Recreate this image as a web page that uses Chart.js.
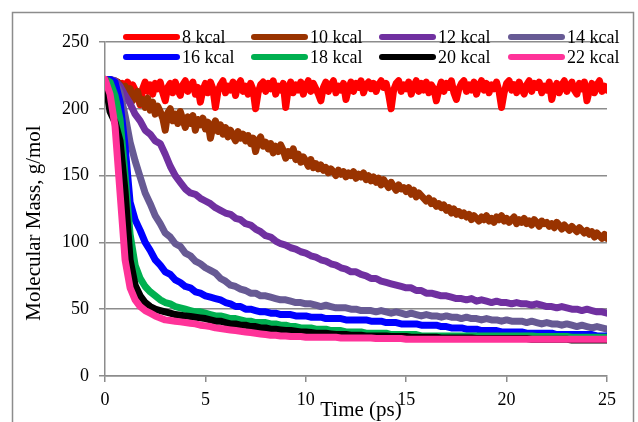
<!DOCTYPE html>
<html>
<head>
<meta charset="utf-8">
<script src="https://cdn.jsdelivr.net/npm/chart.js@4.4.0/dist/chart.umd.min.js"></script>
<style>
  html, body { margin: 0; padding: 0; background: #fff; }
  #wrap { position: relative; width: 638px; height: 422px; }
</style>
</head>
<body>
<div id="wrap"><canvas id="massChart" width="638" height="422"></canvas></div>
<script>
// Time axis (ps): the noisy runs are read every 0.125 ps, the others every 0.25 ps
const timesFine = [
  0, 0.125, 0.25, 0.375, 0.5, 0.625, 0.75, 0.875, 1, 1.125, 1.25, 1.375, 1.5, 1.625, 1.75, 1.875,
  2, 2.125, 2.25, 2.375, 2.5, 2.625, 2.75, 2.875, 3, 3.125, 3.25, 3.375, 3.5, 3.625, 3.75, 3.875,
  4, 4.125, 4.25, 4.375, 4.5, 4.625, 4.75, 4.875, 5, 5.125, 5.25, 5.375, 5.5, 5.625, 5.75, 5.875,
  6, 6.125, 6.25, 6.375, 6.5, 6.625, 6.75, 6.875, 7, 7.125, 7.25, 7.375, 7.5, 7.625, 7.75, 7.875,
  8, 8.125, 8.25, 8.375, 8.5, 8.625, 8.75, 8.875, 9, 9.125, 9.25, 9.375, 9.5, 9.625, 9.75, 9.875,
  10, 10.125, 10.25, 10.375, 10.5, 10.625, 10.75, 10.875, 11, 11.125, 11.25, 11.375, 11.5, 11.625, 11.75, 11.875,
  12, 12.125, 12.25, 12.375, 12.5, 12.625, 12.75, 12.875, 13, 13.125, 13.25, 13.375, 13.5, 13.625, 13.75, 13.875,
  14, 14.125, 14.25, 14.375, 14.5, 14.625, 14.75, 14.875, 15, 15.125, 15.25, 15.375, 15.5, 15.625, 15.75, 15.875,
  16, 16.125, 16.25, 16.375, 16.5, 16.625, 16.75, 16.875, 17, 17.125, 17.25, 17.375, 17.5, 17.625, 17.75, 17.875,
  18, 18.125, 18.25, 18.375, 18.5, 18.625, 18.75, 18.875, 19, 19.125, 19.25, 19.375, 19.5, 19.625, 19.75, 19.875,
  20, 20.125, 20.25, 20.375, 20.5, 20.625, 20.75, 20.875, 21, 21.125, 21.25, 21.375, 21.5, 21.625, 21.75, 21.875,
  22, 22.125, 22.25, 22.375, 22.5, 22.625, 22.75, 22.875, 23, 23.125, 23.25, 23.375, 23.5, 23.625, 23.75, 23.875,
  24, 24.125, 24.25, 24.375, 24.5, 24.625, 24.75, 24.875, 25
];
const times = [
  0, 0.25, 0.5, 0.75, 1, 1.25, 1.5, 1.75, 2, 2.25, 2.5, 2.75, 3, 3.25, 3.5, 3.75, 4, 4.25, 4.5, 4.75,
  5, 5.25, 5.5, 5.75, 6, 6.25, 6.5, 6.75, 7, 7.25, 7.5, 7.75, 8, 8.25, 8.5, 8.75, 9, 9.25, 9.5, 9.75,
  10, 10.25, 10.5, 10.75, 11, 11.25, 11.5, 11.75, 12, 12.25, 12.5, 12.75, 13, 13.25, 13.5, 13.75, 14, 14.25, 14.5, 14.75,
  15, 15.25, 15.5, 15.75, 16, 16.25, 16.5, 16.75, 17, 17.25, 17.5, 17.75, 18, 18.25, 18.5, 18.75, 19, 19.25, 19.5, 19.75,
  20, 20.25, 20.5, 20.75, 21, 21.25, 21.5, 21.75, 22, 22.25, 22.5, 22.75, 23, 23.25, 23.5, 23.75, 24, 24.25, 24.5, 24.75,
  25
];

const labels = ['8 kcal', '10 kcal', '12 kcal', '14 kcal', '16 kcal', '18 kcal', '20 kcal', '22 kcal'];
const colors = ['#ff0000', '#993300', '#7030a0', '#675a94', '#0000ff', '#00b050', '#000000', '#ff3399'];

// Molecular mass (g/mol), one row per ps for the fine runs
const kcal8 = [
  222, 222, 221, 219, 217, 220, 214, 219,
  216, 220, 212, 218, 214, 210, 203, 215,
  220, 213, 218, 211, 219, 215, 220, 212,
  206, 216, 219, 212, 220, 214, 210, 218,
  221, 213, 217, 220, 211, 216, 205, 214,
  219, 212, 220, 215, 201, 213, 218, 221,
  212, 217, 214, 220, 210, 218, 221, 213,
  217, 211, 219, 214, 200, 212, 218, 220,
  213, 219, 215, 221, 211, 217, 214, 219,
  201, 215, 220, 212, 218, 214, 220, 211,
  217, 221, 213, 219, 215, 211, 206, 216,
  220, 213, 218, 221, 212, 217, 214, 219,
  207, 215, 220, 213, 219, 216, 221, 212,
  218, 220, 215, 219, 213, 218, 221, 216,
  219, 211, 200, 214, 219, 221, 213, 218,
  215, 220, 211, 217, 221, 213, 219, 214,
  220, 212, 218, 215, 206, 214, 220, 213,
  219, 216, 221, 212, 207, 215, 219, 221,
  213, 218, 214, 220, 211, 217, 221, 214,
  219, 212, 218, 215, 220, 213, 201, 212,
  219, 221, 214, 218, 212, 220, 215, 211,
  218, 221, 213, 219, 216, 220, 212, 217,
  214, 220, 207, 215, 219, 212, 218, 221,
  213, 217, 220, 214, 211, 219, 215, 220,
  206, 214, 219, 212, 218, 221, 213, 217,
  214
];
const kcal10 = [
  222, 222, 222, 221, 221, 220, 218, 216,
  217, 212, 215, 206, 210, 213, 204, 207,
  201, 208, 199, 205, 196, 202, 198, 193,
  184, 197, 200, 191, 196, 189, 198, 192,
  186, 194, 189, 195, 184, 192, 188, 193,
  185, 190, 178, 187, 191, 183, 188, 181,
  186, 179, 184, 180, 176, 183, 178, 181,
  176, 180, 174, 178, 168, 176, 179, 172,
  175, 170, 174, 167, 172, 168, 173, 169,
  163, 168, 165, 170, 162, 166, 160, 164,
  161, 157, 162, 156, 159, 155, 158, 154,
  156, 152, 155, 153, 150, 154, 151, 153,
  149, 152, 150, 153, 148, 151, 149, 152,
  147, 150, 146, 149, 145, 148, 143, 147,
  144, 141, 145, 142, 139, 143, 140, 141,
  138, 141, 136, 139, 134, 137, 135, 133,
  131, 133, 129, 131, 127, 129, 126, 128,
  124, 126, 122, 125, 121, 123, 120, 122,
  119, 121, 117, 120, 118, 116, 119, 117,
  120, 116, 118, 115, 119, 117, 120, 116,
  118, 115, 117, 119, 114, 117, 115, 118,
  114, 116, 113, 117, 115, 112, 116, 114,
  115, 112, 114, 111, 115, 113, 110, 113,
  111, 109, 112, 110, 108, 111, 109, 107,
  109, 106, 108, 104, 107, 105, 103, 106,
  103
];
const kcal12 = [
  222, 222, 221, 217, 210, 204, 196, 191, 184, 181, 176, 174, 166, 157, 150, 145, 140, 137, 136, 133,
  131, 129, 126, 124, 122, 121, 118, 117, 114, 113, 110, 108, 105, 104, 101, 99, 98, 96, 95, 93,
  92, 90, 89, 87, 86, 84, 83, 81, 80, 78, 78, 76, 75, 73, 73, 71, 70, 69, 68, 67,
  66, 66, 64, 64, 62, 62, 61, 60, 60, 59, 58, 58, 57, 58, 56, 57, 56, 55, 56, 55,
  55, 54, 55, 54, 54, 53, 54, 53, 52, 52, 51, 52, 51, 50, 50, 49, 50, 49, 48, 48,
  47
];
const kcal14 = [
  222, 222, 220, 212, 195, 175, 161, 149, 137, 129, 120, 114, 107, 104, 99, 97, 92, 90, 86, 84,
  81, 79, 77, 73, 71, 68, 67, 65, 64, 62, 62, 60, 60, 59, 58, 57, 57, 56, 55, 55,
  54, 54, 53, 52, 53, 52, 51, 51, 51, 50, 50, 49, 49, 49, 48, 49, 48, 47, 48, 47,
  46, 47, 46, 45, 46, 45, 45, 44, 45, 44, 44, 43, 44, 43, 43, 42, 43, 42, 42, 41,
  42, 41, 41, 41, 40, 41, 40, 39, 40, 39, 39, 38, 39, 38, 37, 38, 37, 36, 37, 36,
  35
];
const kcal16 = [
  222, 222, 220, 205, 172, 130, 117, 109, 100, 94, 87, 83, 78, 76, 72, 70, 67, 66, 63, 62,
  60, 59, 58, 57, 55, 54, 52, 52, 50, 50, 49, 48, 48, 47, 47, 46, 46, 46, 45, 45,
  45, 44, 44, 44, 43, 43, 43, 43, 42, 42, 42, 42, 42, 41, 41, 41, 40, 40, 40, 39,
  39, 39, 39, 38, 38, 38, 38, 37, 37, 36, 36, 36, 35, 35, 35, 34, 34, 34, 34, 33,
  33, 33, 33, 33, 32, 32, 32, 32, 32, 32, 31, 31, 31, 31, 31, 31, 31, 31, 30, 30,
  30
];
const kcal18 = [
  222, 220, 210, 192, 150, 106, 83, 73, 67, 63, 60, 57, 55, 54, 52, 51, 50, 49, 48, 48,
  47, 46, 45, 45, 44, 43, 43, 42, 41, 41, 40, 40, 40, 39, 39, 38, 38, 37, 37, 36,
  36, 36, 35, 35, 35, 34, 34, 34, 33, 33, 33, 33, 32, 32, 32, 32, 32, 31, 31, 31,
  31, 31, 31, 30, 30, 30, 30, 30, 30, 30, 30, 30, 30, 30, 30, 30, 30, 30, 30, 30,
  30, 30, 30, 30, 30, 30, 29.5, 29.5, 29.5, 29.5, 29.5, 29.5, 29.5, 29, 29, 29, 29, 29, 29, 29,
  29
];
const kcal20 = [
  222, 198, 190, 176, 138, 87, 68, 60, 55, 52, 50, 49, 48, 47, 46, 45.5, 45, 44.5, 44, 43.5,
  43, 42, 41, 41, 40, 39, 39, 38, 38, 37, 37, 36, 36, 35, 35, 34.5, 34, 34, 33.5, 33,
  33, 32.5, 32, 32, 32, 31.5, 31, 31, 31, 30.5, 30.5, 30.5, 30, 30, 30, 30, 30, 29.5, 29.5, 29.5,
  29.5, 29, 29, 29, 29, 29, 29, 28.5, 28.5, 28.5, 28.5, 28.5, 28.5, 28.5, 28, 28, 28, 28, 28, 28,
  28, 28, 28, 28, 28, 27.5, 27.5, 27.5, 27.5, 27.5, 27.5, 27.5, 27.5, 27, 27, 27, 27, 27, 27, 27,
  27
];
const kcal22 = [
  222, 211, 187, 137, 87, 66, 57, 52, 49, 47, 45, 43.5, 42, 41.5, 41, 40.5, 40, 39.5, 39, 38,
  37.5, 37, 36, 35.5, 35, 34.5, 34, 33.5, 33, 32.5, 32, 31.5, 31, 30.5, 30.5, 30, 30, 29.5, 29.5, 29.5,
  29, 29, 29, 29, 29, 29, 29, 28.5, 28.5, 28.5, 28.5, 28.5, 28.5, 28.5, 28, 28, 28, 28, 28, 28,
  27.5, 27.5, 27.5, 27.5, 27.5, 27.5, 27.5, 27.5, 27.5, 27.5, 27.5, 27.5, 27.5, 27.5, 27.5, 27.5, 27.5, 27.5, 27.5, 27.5,
  27.5, 27.5, 27.5, 27.5, 27.5, 27.5, 27.5, 27.5, 27.5, 27.5, 27.5, 27.5, 27.5, 27.5, 27.5, 27.5, 27.5, 27.5, 27.5, 27.5,
  27.5
];
const series = [kcal8, kcal10, kcal12, kcal14, kcal16, kcal18, kcal20, kcal22];
const seriesTimes = [timesFine, timesFine, times, times, times, times, times, times];

const yTicks = [0, 50, 100, 150, 200, 250];
const xTicks = [0, 5, 10, 15, 20, 25];

const serif = "'Liberation Serif', 'Times New Roman', serif";
const gridColor = '#8c8c8c';

// frame round the whole chart, axis titles and the legend
const decorations = {
  id: 'decorations',
  beforeDraw(chart) {
    const c = chart.ctx;
    c.save();
    c.strokeStyle = gridColor;
    c.lineWidth = 1.5;
    c.strokeRect(12.5, 12.5, 621, 430);
    c.restore();
  },
  afterDraw(chart) {
    const c = chart.ctx;
    c.save();
    c.fillStyle = '#000';
    c.font = '21px ' + serif;
    c.textAlign = 'center';
    c.textBaseline = 'middle';
    c.fillText('Time (ps)', 361, 410);
    c.translate(34, 223);
    c.rotate(-Math.PI / 2);
    c.fillText('Molecular Mass, g/mol', 0, 0);
    c.restore();

    // legend: two rows of four
    c.save();
    c.font = '18px ' + serif;
    c.textBaseline = 'middle';
    c.textAlign = 'left';
    c.lineCap = 'round';
    c.lineWidth = 6;
    const colX = [126, 254, 382, 511];
    const rowY = [37, 57];
    chart.data.datasets.forEach((ds, i) => {
      const x = colX[i % 4];
      const y = rowY[Math.floor(i / 4)];
      c.strokeStyle = ds.borderColor;
      c.beginPath();
      c.moveTo(x, y);
      c.lineTo(x + 51, y);
      c.stroke();
      c.fillStyle = '#000';
      c.fillText(ds.label, x + 56, y + 1);
    });
    c.restore();
  }
};

const ctx = document.getElementById('massChart').getContext('2d');
new Chart(ctx, {
  type: 'line',
  data: {
    datasets: series.map((vals, i) => ({
      label: labels[i],
      data: vals.map((v, k) => ({ x: seriesTimes[i][k], y: v })),
      borderColor: colors[i],
      backgroundColor: colors[i],
      borderWidth: 7,
      borderCapStyle: 'round',
      borderJoinStyle: 'round',
      pointRadius: 0,
      tension: 0,
      fill: false,
      order: series.length - i // later series drawn on top
    }))
  },
  options: {
    responsive: false,
    animation: false,
    events: [],
    layout: { padding: { left: 0, top: 42, right: 31, bottom: 0 } },
    plugins: {
      legend: { display: false },
      tooltip: { enabled: false }
    },
    scales: {
      x: {
        type: 'linear',
        min: 0,
        max: 25,
        afterFit: s => { s.height = 46; },
        afterBuildTicks: s => { s.ticks = xTicks.map(v => ({ value: v })); },
        ticks: { color: '#000', font: { family: serif, size: 18 }, padding: 7, maxRotation: 0 },
        grid: { drawOnChartArea: false, color: gridColor, lineWidth: 1.5, tickLength: 6 },
        border: { color: gridColor, width: 1.5 }
      },
      y: {
        min: 0,
        max: 250,
        afterFit: s => { s.width = 105; },
        afterBuildTicks: s => { s.ticks = yTicks.map(v => ({ value: v })); },
        ticks: { color: '#000', font: { family: serif, size: 18 }, padding: 10 },
        grid: { color: gridColor, lineWidth: 1.5, tickLength: 6 },
        border: { color: gridColor, width: 1.5 }
      }
    }
  },
  plugins: [decorations]
});
</script>
</body>
</html>
